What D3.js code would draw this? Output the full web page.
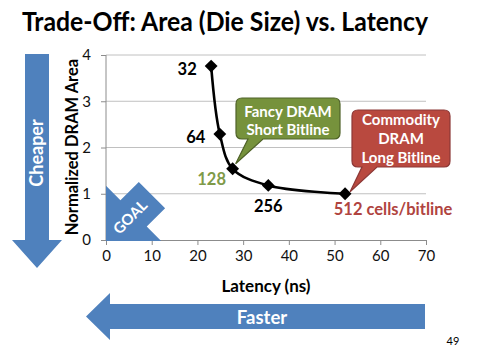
<!DOCTYPE html>
<html><head><meta charset="utf-8">
<script src="https://cdn.jsdelivr.net/npm/d3@7"></script>
<style>
html,body{margin:0;padding:0;background:#fff;}
svg{display:block;font-family:Lato,"Open Sans",sans-serif;}
</style></head>
<body>
<script>
// ---- data ----
const cellsPerBitline = ["32", "64", "128", "256", "512 cells/bitline"];
const latencyNs = [23.0, 24.9, 27.7, 35.5, 52.3];
const normArea = [3.76, 2.29, 1.54, 1.18, 1.0];
const xTicks = [0, 10, 20, 30, 40, 50, 60, 70];
const yTicks = [0, 1, 2, 3, 4];
const greenCallout = ["Fancy DRAM", "Short Bitline"];
const redCallout = ["Commodity", "DRAM", "Long Bitline"];

const W = 480, H = 360;
const svg = d3.select("body").append("svg").attr("width", W).attr("height", H);

const x = d3.scaleLinear().domain([0, 70]).range([106, 426]);
const y = d3.scaleLinear().domain([0, 4]).range([240, 55]);

const blue = "#4f81bd";

// Title
svg.append("text").attr("x", 22).attr("y", 31)
  .attr("font-size", 27).attr("font-weight", 700).attr("fill", "#000")
  .attr("textLength", 406).attr("lengthAdjust", "spacingAndGlyphs")
  .text("Trade-Off: Area (Die Size) vs. Latency");

// Gridlines
svg.append("g").selectAll("line").data(yTicks.filter(d => d > 0)).join("line")
  .attr("x1", x(0)).attr("x2", x(70)).attr("y1", d => y(d)).attr("y2", d => y(d))
  .attr("stroke", "#c0c0c0").attr("stroke-width", 1);

// Axes
const xAxis = svg.append("g").attr("transform", `translate(0,${y(0)})`)
  .call(d3.axisBottom(x).tickValues(xTicks).tickFormat(d3.format("d")).tickSize(5).tickPadding(5).tickSizeOuter(0));
const yAxis = svg.append("g").attr("transform", `translate(${x(0)},0)`)
  .call(d3.axisLeft(y).tickValues(yTicks).tickFormat(d3.format("d")).tickSize(5).tickPadding(10).tickSizeOuter(0));
[xAxis, yAxis].forEach(g => {
  g.select(".domain").attr("stroke", "#8c8c8c");
  g.selectAll(".tick line").attr("stroke", "#8c8c8c");
  g.selectAll(".tick text").attr("font-size", 15).attr("fill", "#111")
    .attr("font-family", "Lato, 'Open Sans', sans-serif");
});
yAxis.select(".domain").remove();
yAxis.append("line").attr("x1", 0).attr("x2", 0).attr("y1", y(0)).attr("y2", y(4)).attr("stroke", "#8c8c8c");

// Axis titles
svg.append("text").attr("x", 266).attr("y", 292).attr("text-anchor", "middle")
  .attr("font-size", 17).attr("font-weight", 700).text("Latency (ns)");
svg.append("text").attr("transform", "translate(78,147) rotate(-90)").attr("text-anchor", "middle")
  .attr("font-size", 16.5).attr("font-weight", 700).text("Normalized DRAM Area");

// GOAL arrow (pointing to the origin, rotated 45deg)
{
  const T = [x(0), y(0) + 1];
  const L = 39, h = 39, w = 18.6, s = 26, r = Math.SQRT1_2;
  const u = [r, -r], n = [r, r];
  const P = (a, b) => [T[0] + a * u[0] + b * n[0], T[1] + a * u[1] + b * n[1]];
  const pts = [P(0, 0), P(L, -h), P(L, -w), P(L + s, -w), P(L + s, w), P(L, w), P(L, h)];
  svg.append("polygon").attr("points", pts.map(p => p.join(",")).join(" ")).attr("fill", blue);
  svg.append("text").attr("transform", `translate(${P(34, 0)[0]},${P(34, 0)[1]}) rotate(-45)`)
    .attr("text-anchor", "middle").attr("dy", "0.36em").attr("font-size", 15).attr("font-weight", 700)
    .attr("fill", "#fff").text("GOAL");
}

// Callouts
function callout(x0, y0, x1, y1, bx0, bx1, tip, fill, stroke, lines, cx, baselines) {
  const r = 6;
  const path = `M${x0 + r},${y0} H${x1 - r} Q${x1},${y0} ${x1},${y0 + r} V${y1 - r} Q${x1},${y1} ${x1 - r},${y1}
    H${bx1} L${tip[0]},${tip[1]} L${bx0},${y1} H${x0 + r} Q${x0},${y1} ${x0},${y1 - r} V${y0 + r} Q${x0},${y0} ${x0 + r},${y0} Z`;
  svg.append("path").attr("d", path).attr("fill", fill).attr("stroke", stroke).attr("stroke-width", 1.2);
  svg.append("g").selectAll("text").data(lines).join("text")
    .attr("x", cx).attr("y", (d, i) => baselines[i]).attr("text-anchor", "middle")
    .attr("font-size", 15).attr("font-weight", 700).attr("fill", "#fff").text(d => d);
}
callout(236, 98, 340, 139, 248, 263, [x(latencyNs[2]) + 3, y(normArea[2]) - 5], "#76923c", "#4f6228",
  greenCallout, 288, [117, 135]);
callout(352, 110, 450, 167, 362, 377, [x(latencyNs[4]) + 5, y(normArea[4]) - 2], "#b9493f", "#8c3836",
  redCallout, 401, [125, 144, 163]);

// Line
const pts = latencyNs.map((d, i) => [x(d), y(normArea[i])]);
svg.append("path").attr("d", d3.line().curve(d3.curveCatmullRom.alpha(0.5))(pts))
  .attr("fill", "none").attr("stroke", "#000").attr("stroke-width", 2.6);
svg.append("g").selectAll("path").data(pts).join("path")
  .attr("transform", d => `translate(${d[0]},${d[1]})`)
  .attr("d", d3.symbol().type(d3.symbolDiamond2).size(105)).attr("fill", "#000");

// Data labels
const labelOffsets = [[-24, 9], [-24, 9], [-21, 16], [0, 27], [48, 21]];
const labelColors = ["#000", "#000", "#7f9a48", "#000", "#b0443f"];
svg.append("g").selectAll("text").data(cellsPerBitline).join("text")
  .attr("x", (d, i) => pts[i][0] + labelOffsets[i][0])
  .attr("y", (d, i) => pts[i][1] + labelOffsets[i][1])
  .attr("text-anchor", "middle").attr("font-size", 16.5).attr("font-weight", 700)
  .attr("fill", (d, i) => labelColors[i]).text(d => d);

// Cheaper arrow (vertical, pointing down)
svg.append("polygon").attr("points", "25,54 49,54 49,240 62,240 37,268 12,240 25,240").attr("fill", blue);
svg.append("text").attr("transform", "translate(37,153) rotate(-90)").attr("text-anchor", "middle")
  .attr("dy", "0.36em").attr("font-size", 18).attr("font-weight", 700).attr("fill", "#fff").text("Cheaper");

// Faster arrow (horizontal, pointing left)
svg.append("polygon").attr("points", "425,304 425,329 110,329 110,340 86,316.5 110,293 110,304").attr("fill", blue);
svg.append("text").attr("x", 262).attr("y", 317).attr("text-anchor", "middle")
  .attr("dy", "0.36em").attr("font-size", 18.5).attr("font-weight", 700).attr("fill", "#fff").text("Faster");

// Page number
svg.append("text").attr("x", 453).attr("y", 345).attr("text-anchor", "middle")
  .attr("font-size", 11).attr("fill", "#000").text("49");
</script>
</body></html>
